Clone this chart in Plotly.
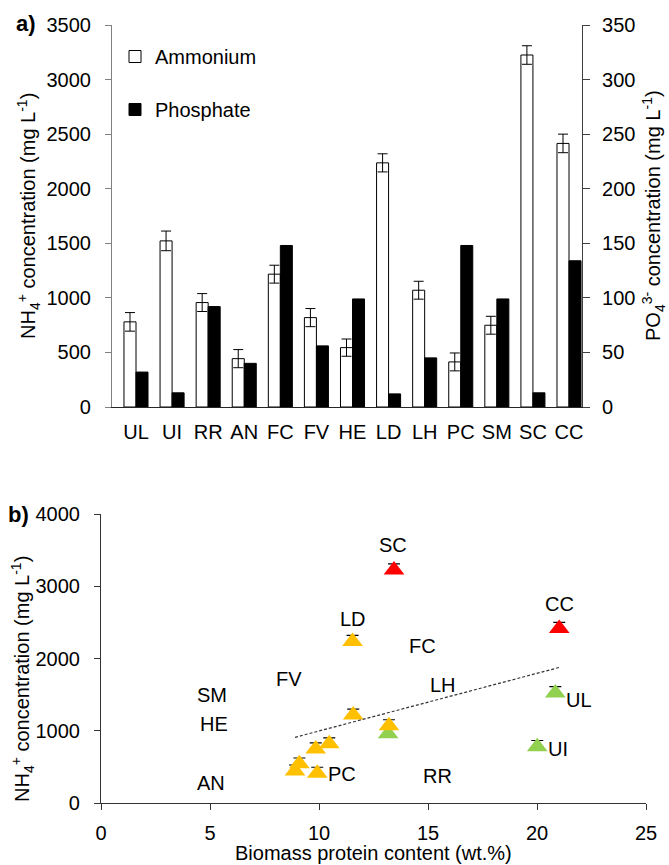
import numpy as np
import plotly.graph_objects as go

# ---------------- data ----------------
categories = ["UL", "UI", "RR", "AN", "FC", "FV", "HE", "LD", "LH", "PC", "SM", "SC", "CC"]
ammonium = [780, 1522, 957, 443, 1217, 819, 544, 2237, 1070, 413, 749, 3225, 2415]
ammonium_err = [85, 90, 82, 83, 82, 83, 79, 83, 82, 82, 82, 85, 85]
phosphate = [32, 13, 92, 40, 148, 56, 99, 12, 45, 148, 99, 13, 134]

# panel b: protein content (x) vs ammonium (y)
protein = [20.01, 20.84, 13.17, 8.9, 11.57, 10.47, 9.1, 11.54, 13.21, 9.92, 9.85, 13.44, 21.02]
point_class = ["green", "green", "green", "yellow", "yellow", "yellow", "yellow",
               "yellow", "yellow", "yellow", "yellow", "red", "red"]

# label texts as placed on panel b
b_labels = ["SC", "CC", "LD", "FC", "LH", "UL", "UI", "RR", "PC", "FV", "SM", "HE", "AN"]
b_label_x = [13.41, 21.02, 11.55, 14.76, 15.70, 21.94, 20.98, 15.43, 11.04, 8.64, 5.09, 5.18, 5.06]
b_label_y = [3571, 2754, 2542, 2177, 1633, 1426, 743, 374, 401, 1716, 1495, 1089, 281]

# ---------------- style ----------------
W, H = 669, 865
FONT = "Liberation Sans, Arial, sans-serif"
colors = {"green": "#92D050", "yellow": "#FFC000", "red": "#FF0000"}

def px_x(p):
    return p / W

def px_y(p):
    return 1 - p / H

fig = go.Figure()

# Panel a bars
fig.add_trace(go.Bar(
    x=categories, y=ammonium, name="Ammonium",
    marker=dict(color="white", line=dict(color="black", width=1)),
    width=0.333, offset=-0.333,
    error_y=dict(type="data", array=ammonium_err, color="black", thickness=1, width=5),
    xaxis="x", yaxis="y", legendgroup="a",
))
fig.add_trace(go.Bar(
    x=categories, y=phosphate, name="Phosphate",
    marker=dict(color="black", line=dict(color="black", width=1)),
    width=0.333, offset=0,
    xaxis="x", yaxis="y2", legendgroup="p",
))

# Panel b scatter
for cls in ["green", "yellow", "red"]:
    idx = [i for i, c in enumerate(point_class) if c == cls]
    fig.add_trace(go.Scatter(
        x=[protein[i] for i in idx], y=[ammonium[i] for i in idx],
        mode="markers", showlegend=False,
        marker=dict(symbol="triangle-up", size=18, color=colors[cls]),
        error_y=dict(type="data", symmetric=False,
                     array=[ammonium_err[i] for i in idx],
                     arrayminus=[0] * len(idx),
                     color="black", thickness=1.2, width=6),
        xaxis="x2", yaxis="y3",
    ))

# linear trendline
slope, intercept = np.polyfit(protein, ammonium, 1)
tx = np.array([min(protein), max(protein)])
fig.add_trace(go.Scatter(
    x=tx, y=slope * tx + intercept, mode="lines", showlegend=False,
    line=dict(color="#333333", width=1.2, dash="3px,2px"),
    xaxis="x2", yaxis="y3",
))

axis_common = dict(showgrid=False, zeroline=False, showline=True, automargin=False,
                   tickfont=dict(size=20, family=FONT, color="black"))

fig.update_layout(
    width=W, height=H,
    margin=dict(l=0, r=0, t=0, b=0),
    paper_bgcolor="white", plot_bgcolor="rgba(0,0,0,0)",
    font=dict(family=FONT, size=20, color="black"),
    barmode="overlay",
    xaxis=dict(**axis_common, domain=[px_x(112), px_x(582)], anchor="y",
               range=[-0.665, 12.36], linecolor="#262626", linewidth=1.2,
               ticks="", ticklabelstandoff=7),
    yaxis=dict(**axis_common, domain=[px_y(407), px_y(25)], anchor="x",
               range=[0, 3500], dtick=500, linecolor="#808080", linewidth=1.2,
               ticks="outside", ticklen=6, tickcolor="#808080", ticklabelstandoff=10),
    yaxis2=dict(**axis_common, overlaying="y", side="right", anchor="x",
                range=[0, 350], dtick=50, linecolor="#404040", linewidth=1.2,
                ticks="outside", ticklen=7, tickcolor="#404040", ticklabelstandoff=8),
    xaxis2=dict(**axis_common, domain=[px_x(101), px_x(646)], anchor="y3",
                range=[0, 25], dtick=5, linecolor="#333333", linewidth=1.2,
                ticks="outside", ticklen=6, tickcolor="#333333", ticklabelstandoff=6),
    yaxis3=dict(**axis_common, domain=[px_y(803), px_y(514)], anchor="x2",
                range=[0, 4000], dtick=1000, linecolor="#333333", linewidth=1.2,
                ticks="outside", ticklen=6, tickcolor="#333333", ticklabelstandoff=10),
    legend=dict(x=px_x(115), y=px_y(37), xanchor="left", yanchor="top",
                bgcolor="rgba(0,0,0,0)", font=dict(size=20, family=FONT),
                tracegroupgap=24, itemwidth=30),
)

ann = []
def add_ann(text, x, y, size=20, angle=0):
    ann.append(dict(text=text, x=x, y=y, xref="paper", yref="paper",
                    xanchor="center", yanchor="middle", textangle=angle,
                    showarrow=False, font=dict(size=size)))

add_ann("NH<sub>4</sub><sup>+</sup> concentration (mg L<sup>-1</sup>)", px_x(28), px_y(216), angle=-90)
add_ann("PO<sub>4</sub><sup>3-</sup> concentration (mg L<sup>-1</sup>)", px_x(653), px_y(216), angle=-90)
add_ann("NH<sub>4</sub><sup>+</sup> concentration (mg L<sup>-1</sup>)", px_x(22), px_y(679), angle=-90)
add_ann("Biomass protein content (wt.%)", px_x(373), px_y(853))
add_ann("<b>a)</b>", px_x(26), px_y(23), size=22)
add_ann("<b>b)</b>", px_x(18), px_y(514), size=22)

for t, lx, ly in zip(b_labels, b_label_x, b_label_y):
    ann.append(dict(text=t, x=lx, y=ly, xref="x2", yref="y3", showarrow=False,
                    xanchor="center", yanchor="middle", font=dict(size=20)))
fig.update_layout(annotations=ann)

fig.write_html("out.html")
